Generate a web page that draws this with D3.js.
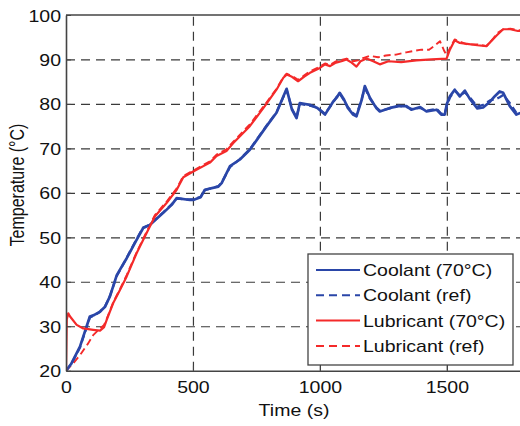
<!DOCTYPE html>
<html>
<head>
<meta charset="utf-8">
<script src="https://cdn.jsdelivr.net/npm/d3@7"></script>
<style>
  html, body { margin: 0; padding: 0; background: #fff; overflow: hidden; }
  svg { display: block; }
  text { font-family: "Liberation Sans", Arial, Helvetica, sans-serif; fill: #111; }
</style>
</head>
<body>
<svg id="chart" width="520" height="426"></svg>
<script>
// ---------------- data ----------------
const coolant70 = [
  [0,20],[20,21.5],[55,25.4],[94,32.2],[110,32.5],[134,33.3],[154,34.4],[173,36.7],[200,41.5],
  [239,45.3],[278,49.4],[304,52.1],[331,52.8],[383,55.5],[416,57.3],[436,58.8],[488,58.4],
  [501,58.4],[530,59],[547,60.7],[600,61.4],[613,62.2],[646,66],[685,67.5],[724,69.7],[790,75],
  [829,78],[869,83.4],[890,78.7],[908,76.8],[921,80.2],[960,79.8],[990,79.1],[1020,77.6],
  [1052,80.5],[1066,81.4],[1078,82.5],[1095,81],[1110,79.1],[1131,77.6],[1144,77.2],[1165,81],
  [1177,84],[1197,81.4],[1223,79],[1236,78.3],[1276,79.1],[1310,79.5],[1341,79.5],[1360,78.7],
  [1395,79.3],[1420,78.3],[1460,78.7],[1478,77.6],[1492,77.6],[1500,80],[1512,81.7],[1531,83.2],
  [1551,81.7],[1571,83],[1590,81.2],[1620,79],[1643,79.2],[1670,80.5],[1690,81.8],[1708,82.8],
  [1722,82.5],[1748,79.5],[1774,77.6],[1800,78.2]
];
const coolantRef = [
  [0,20],[20,21.4],[55,25.2],[94,32],[110,32.4],[134,33.2],[154,34.5],[173,36.8],[200,41.3],
  [239,45.4],[278,49.6],[304,52.2],[331,52.9],[383,55.6],[416,57.4],[436,58.7],[488,58.5],
  [501,58.5],[530,59.1],[547,60.6],[600,61.5],[613,62.3],[646,65.8],[685,67.6],[724,69.8],[790,75.1],
  [829,78.1],[869,83.2],[890,78.9],[908,77],[921,80],[960,79.6],[990,79.2],[1020,77.8],
  [1052,80.3],[1066,81.6],[1078,82.3],[1095,80.8],[1110,79.3],[1131,77.9],[1144,77.4],[1165,81.2],
  [1177,83.6],[1197,81.2],[1223,79.2],[1236,78.5],[1276,79],[1310,79.6],[1341,79.3],[1360,78.9],
  [1395,79.1],[1420,78.5],[1460,78.9],[1478,77.8],[1492,77.9],[1500,79.6],[1512,81.4],[1531,83],
  [1551,81.9],[1571,82.6],[1590,81.5],[1620,79.4],[1643,79.8],[1670,80.8],[1690,81],[1708,81.5],
  [1722,82],[1748,80.2],[1774,78],[1800,78.4]
];
const lubricant70 = [
  [0,20],[3,31.5],[9,32.9],[16,32.2],[42,30.3],[68,29.5],[107,29.2],[134,29],[150,29.8],[160,31.4],
  [186,35.2],[213,38.2],[239,41.2],[278,46.4],[317,50.9],[350,54.7],[396,57.7],[436,60.7],
  [462,63.5],[501,64.8],[567,66.8],[593,68.3],[632,69.4],[659,71.2],[724,75],[783,79.5],
  [829,83.2],[856,85.9],[869,86.6],[890,86.1],[914,85.1],[940,86.2],[961,87],[1000,88.1],
  [1020,88.9],[1040,88.5],[1060,89.2],[1085,89.6],[1105,90],[1125,89.3],[1144,88.4],[1160,89.6],
  [1184,90.2],[1210,89.6],[1236,88.9],[1270,89.6],[1320,89.4],[1380,89.8],[1440,90],[1499,90.2],
  [1512,92.2],[1531,94.3],[1551,93.7],[1580,93.5],[1620,93.2],[1656,93],[1696,95.4],[1722,96.8],
  [1750,96.8],[1780,96.4],[1800,96.4]
];
const lubricantRef = [
  [0,20],[29,21.7],[55,23.5],[88,26.2],[107,28],[134,29.5],[150,30.3],[160,31.6],
  [186,35.4],[213,38.4],[239,41.5],[278,46.6],[317,51.2],[350,55],[396,58],[436,61],
  [462,63.8],[501,65],[567,67.1],[593,68.6],[632,69.8],[659,71.5],[724,75.4],[783,79.8],
  [829,83.4],[856,86],[869,86.8],[890,86.3],[914,85.4],[940,86.5],[961,87.3],[1000,88.4],
  [1020,89.1],[1040,88.8],[1060,89.5],[1085,89.9],[1105,90.2],[1131,89.6],[1150,89.8],[1170,90.3],
  [1197,90.8],[1230,90.5],[1260,90.9],[1300,91.1],[1340,91.6],[1368,91.9],[1400,92.2],[1430,92.2],
  [1450,93],[1473,94.1],[1490,91.9],[1499,91],[1512,92.5],[1531,94.5],[1551,94],[1580,93.4],
  [1620,93.4],[1656,93],[1680,94.5],[1700,96],[1722,96.8],[1750,96.9],[1780,96.6],[1800,96.5]
];

const xTicks = [0, 500, 1000, 1500];
const yTicks = [20, 30, 40, 50, 60, 70, 80, 90, 100];
const xGrid = [500, 1000, 1500];
const yGrid = [30, 40, 50, 60, 70, 80, 90];

const seriesNames = ["Coolant (70\u00B0C)", "Coolant (ref)", "Lubricant (70\u00B0C)", "Lubricant (ref)"];
const seriesData = [coolant70, coolantRef, lubricant70, lubricantRef];
const seriesColors = ["#2a46a8", "#2a46a8", "#f42a2a", "#f42a2a"];
const seriesDash = [null, "7,4", null, "7,4"];
const seriesWidth = [2.7, 2.3, 2.2, 1.9];

const xLabel = "Time (s)";
const yLabel = "Temperature (\u00B0C)";

// ---------------- layout ----------------
const SX = 1.22; // horizontal glyph stretch seen in the reference
const L = 66, T = 15, R = 523, B = 370.7;
const svg = d3.select("#chart");

const x = d3.scaleLinear().domain([0, 1800]).range([L, R]);
const y = d3.scaleLinear().domain([20, 100]).range([B, T]);

svg.append("defs").append("clipPath").attr("id", "plotclip")
  .append("rect").attr("x", L).attr("y", T).attr("width", R - L).attr("height", B - T);

// grid
const gridColor = "#3a3a3a";
svg.append("g").attr("transform", `translate(${L},0)`)
  .call(d3.axisLeft(y).tickValues(yGrid).tickSize(-(R - L)).tickFormat(""))
  .call(g => g.select(".domain").remove())
  .call(g => g.selectAll("line").attr("stroke", gridColor).attr("stroke-width", 1.2).attr("stroke-dasharray", "9,6"));
svg.append("g").attr("transform", `translate(0,${B})`)
  .call(d3.axisBottom(x).tickValues(xGrid).tickSize(-(B - T)).tickFormat(""))
  .call(g => g.select(".domain").remove())
  .call(g => g.selectAll("line").attr("stroke", gridColor).attr("stroke-width", 1.2).attr("stroke-dasharray", "9,6"));

// lines
const line = d3.line().x(d => x(d[0])).y(d => y(d[1]));
const plot = svg.append("g").attr("clip-path", "url(#plotclip)");
[1, 3, 0, 2].forEach(i => {
  plot.append("path").datum(seriesData[i])
    .attr("d", line)
    .attr("fill", "none")
    .attr("stroke", seriesColors[i])
    .attr("stroke-width", seriesWidth[i])
    .attr("stroke-linejoin", "round")
    .attr("stroke-dasharray", seriesDash[i]);
});

// axes
const axisColor = "#444";
const xAxis = svg.append("g").attr("transform", `translate(0,${B})`)
  .call(d3.axisBottom(x).tickValues(xTicks).tickSize(-5).tickPadding(0).tickSizeOuter(0).tickFormat(d3.format("d")));
xAxis.select(".domain").attr("stroke", axisColor).attr("stroke-width", 1.6);
xAxis.selectAll(".tick line").attr("stroke", axisColor);
xAxis.selectAll(".tick text")
  .attr("y", null).attr("dy", null)
  .attr("transform", "translate(0,22) scale(" + SX + ",1)")
  .attr("font-size", 16).attr("fill", "#111");

const yAxis = svg.append("g").attr("transform", `translate(${L},0)`)
  .call(d3.axisLeft(y).tickValues(yTicks).tickSize(-5).tickPadding(0).tickSizeOuter(0));
yAxis.select(".domain").attr("stroke", axisColor).attr("stroke-width", 1.6);
yAxis.selectAll(".tick line").attr("stroke", axisColor);
yAxis.selectAll(".tick text")
  .attr("x", null).attr("dy", null)
  .attr("transform", "translate(-5,6) scale(" + SX + ",1)")
  .attr("font-size", 16).attr("fill", "#111");

// top spine
svg.append("line").attr("x1", L).attr("x2", 520).attr("y1", T).attr("y2", T)
  .attr("stroke", axisColor).attr("stroke-width", 1.6);

// axis labels
svg.append("text").attr("transform", `translate(294,416) scale(${SX},1)`)
  .attr("text-anchor", "middle").attr("font-size", 16).text(xLabel);
svg.append("text").attr("transform", `translate(24,185) scale(${SX},1) rotate(-90)`)
  .attr("text-anchor", "middle").attr("font-size", 16).text(yLabel);

// legend
const lg = svg.append("g");
lg.append("rect").attr("x", 308).attr("y", 254).attr("width", 205).attr("height", 111)
  .attr("fill", "#fff").attr("stroke", "#444").attr("stroke-width", 1.3);
seriesNames.forEach((name, i) => {
  const cy = 270 + i * 25.3;
  lg.append("line").attr("x1", 316).attr("x2", 360).attr("y1", cy).attr("y2", cy)
    .attr("stroke", seriesColors[i]).attr("stroke-width", 2)
    .attr("stroke-dasharray", seriesDash[i] ? "8,5" : null);
  lg.append("text").attr("transform", `translate(363,${cy + 6}) scale(${SX},1)`)
    .attr("font-size", 16).text(name);
});
</script>
</body>
</html>
